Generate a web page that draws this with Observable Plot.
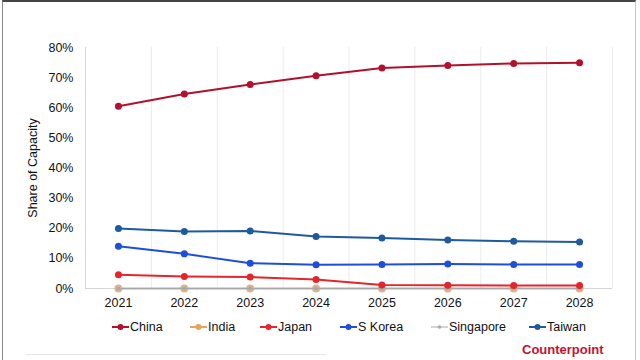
<!DOCTYPE html>
<html>
<head>
<meta charset="utf-8">
<script src="https://cdn.jsdelivr.net/npm/d3@7"></script>
<script src="https://cdn.jsdelivr.net/npm/@observablehq/plot@0.6"></script>
<style>
  html, body { margin: 0; padding: 0; background: #fff; }
  body { width: 640px; height: 360px; overflow: hidden; position: relative; font-family: "Liberation Sans", Arial, sans-serif; }
  #frame { position: absolute; left: 2px; top: 0; width: 634px; height: 362px; border-left: 1px solid #8a8a8a; border-right: 1px solid #c8c8c8; border-top: 2px solid #444; box-sizing: border-box; pointer-events: none; }
  #chart { position: absolute; left: 0; top: 0; }
  #legend { position: absolute; top: 320px; left: 0; width: 640px; height: 18px; font-size: 12.5px; color: #111; }
  .item { position: absolute; display: flex; align-items: center; white-space: nowrap; }
  .item svg { margin-right: 1px; }
  #logo { position: absolute; left: 522px; top: 342px; color: #c8102e; font-size: 13px; font-weight: bold; line-height: 15px; }
  #src { position: absolute; left: 26px; top: 354px; width: 300px; border-top: 1px solid #e6e6e6; }
</style>
</head>
<body>
<div id="chart"></div>
<div id="legend"></div>
<div id="src"></div>
<div id="logo">Counterpoint</div>
<div id="frame"></div>
<script>
const years = [2021, 2022, 2023, 2024, 2025, 2026, 2027, 2028];
const seriesNames = ["China", "India", "Japan", "S Korea", "Singapore", "Taiwan"];
const china     = [60.5, 64.6, 67.7, 70.6, 73.2, 74.0, 74.7, 74.9];
const india     = [0, 0, 0, 0, 0, 0, 0, 0];
const japan     = [4.6, 4.0, 3.8, 3.0, 1.2, 1.1, 1.0, 1.0];
const sKorea    = [14.0, 11.5, 8.4, 7.9, 8.0, 8.1, 8.0, 8.0];
const singapore = [0, 0, 0, 0, 0, 0, 0, 0];
const taiwan    = [19.9, 18.9, 19.1, 17.3, 16.8, 16.1, 15.7, 15.4];
const yTicks = [0, 10, 20, 30, 40, 50, 60, 70, 80];

const colors = {
  "China": "#b2102c",
  "India": "#e8a35c",
  "Japan": "#e3262b",
  "S Korea": "#1d4fd8",
  "Singapore": "#a8a8a8",
  "Taiwan": "#1f5aa0"
};
const dotColors = { ...colors, "India": "#dab38e" };
const radii = { "China": 3.5, "India": 4, "Japan": 3.5, "S Korea": 3.5, "Singapore": 1.8, "Taiwan": 3.5 };

const valuesBySeries = { "China": china, "India": india, "Japan": japan, "S Korea": sKorea, "Singapore": singapore, "Taiwan": taiwan };
const drawOrder = ["India", "Singapore", "Taiwan", "S Korea", "Japan", "China"];
const data = [];
for (const s of drawOrder) {
  valuesBySeries[s].forEach((v, i) => data.push({ series: s, year: years[i], value: v }));
}
const bounds = d3.range(years[0] - 0.5, years[years.length - 1] + 1, 1);

const marks = [
  Plot.text(["Counterpoint"], { frameAnchor: "middle", dx: 60, dy: 45, fontSize: 44, fill: "#000", fillOpacity: 0.02, fontWeight: "bold" }),
  Plot.ruleX(bounds.slice(1), { stroke: "#ececec", strokeWidth: 1 }),
  Plot.ruleX([bounds[0]], { stroke: "#d4d4d4", strokeWidth: 1 }),
  Plot.ruleY([0], { stroke: "#d4d4d4", strokeWidth: 1 }),
];
for (const s of drawOrder) {
  const d = data.filter(r => r.series === s);
  marks.push(Plot.line(d, { x: "year", y: "value", stroke: colors[s], strokeWidth: s === "Singapore" ? 1 : 2 }));
  marks.push(Plot.dot(d, { x: "year", y: "value", r: radii[s], fill: dotColors[s], stroke: "none" }));
}

const chart = Plot.plot({
  width: 640,
  height: 320,
  marginLeft: 85,
  marginRight: 28,
  marginTop: 47,
  marginBottom: 32,
  style: { fontFamily: "Liberation Sans, Arial, sans-serif", fontSize: "12.5px", color: "#111", background: "transparent" },
  x: { domain: [bounds[0], bounds[bounds.length - 1]], ticks: years, tickFormat: d => String(d), tickSize: 0, tickPadding: 10, label: null },
  y: { domain: [0, 80], ticks: yTicks, tickFormat: d => d + "%", tickSize: 0, tickPadding: 12, label: "Share of Capacity", labelAnchor: "center", labelArrow: "none", labelOffset: 57 },
  marks
});
document.getElementById("chart").appendChild(chart);

// Legend
const legendPos = { "China": 112, "India": 190, "Japan": 260, "S Korea": 340, "Singapore": 431, "Taiwan": 529 };
const legend = document.getElementById("legend");
for (const s of seriesNames) {
  const item = document.createElement("div");
  item.className = "item";
  item.style.left = legendPos[s] + "px";
  const r = s === "Singapore" ? 1.8 : 3;
  item.innerHTML = `<svg width="17" height="10"><line x1="0" x2="17" y1="5" y2="5" stroke="${colors[s]}" stroke-width="${s === "Singapore" ? 1 : 2}"/><circle cx="8.5" cy="5" r="${r}" fill="${colors[s]}"/></svg><span>${s}</span>`;
  legend.appendChild(item);
}
</script>
</body>
</html>
